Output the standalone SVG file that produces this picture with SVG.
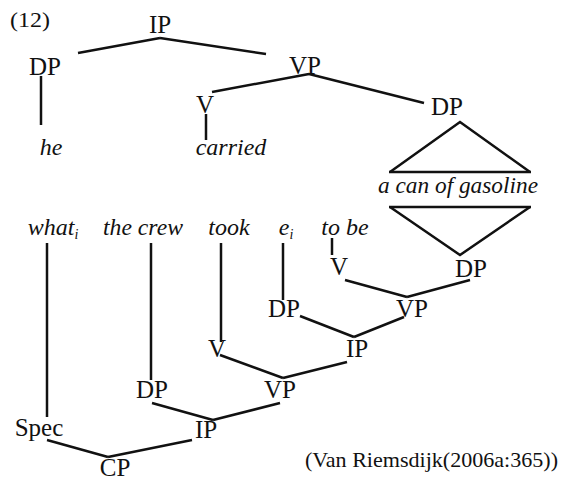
<svg xmlns="http://www.w3.org/2000/svg" width="570" height="477" viewBox="0 0 570 477">
<style>
.n{font-size:25px;fill:#111;text-anchor:middle}
.w{font-size:24px;font-style:italic;fill:#111;text-anchor:middle}
.s{font-size:14px}
.c{font-size:22px;fill:#111}
#edges line,#edges polyline{stroke:#111;stroke-width:2.5;fill:none;stroke-linecap:butt}
</style>
<rect width="570" height="477" fill="#fff"/>
<g id="edges">
<line x1="160" y1="38" x2="78" y2="53"/>
<line x1="160" y1="38" x2="266" y2="54"/>
<line x1="41" y1="76" x2="41" y2="125"/>
<line x1="309" y1="74" x2="212" y2="92"/>
<line x1="309" y1="74" x2="424" y2="103"/>
<line x1="206" y1="114" x2="206" y2="140"/>
<polyline points="390,172 460,122 530,172"/>
<line x1="389" y1="172" x2="531" y2="172"/>
<line x1="389" y1="207" x2="531" y2="207"/>
<polyline points="390,207 460,255 530,207"/>
<line x1="332" y1="238" x2="332" y2="255"/>
<line x1="345" y1="280" x2="407" y2="297"/>
<line x1="470" y1="280" x2="407" y2="297"/>
<line x1="283" y1="243" x2="283" y2="300"/>
<line x1="404" y1="317" x2="354" y2="337"/>
<line x1="300" y1="316" x2="354" y2="337"/>
<line x1="221" y1="243" x2="221" y2="342"/>
<line x1="220" y1="355" x2="283" y2="378"/>
<line x1="347" y1="362" x2="283" y2="378"/>
<line x1="151" y1="243" x2="151" y2="380"/>
<line x1="280" y1="403" x2="213" y2="420"/>
<line x1="152" y1="403" x2="213" y2="420"/>
<line x1="47" y1="243" x2="47" y2="417"/>
<line x1="192" y1="440" x2="108" y2="457"/>
<line x1="47" y1="440" x2="108" y2="457"/>
</g>
<g font-family="Liberation Serif">
<text class="c" x="10" y="27" textLength="40" lengthAdjust="spacingAndGlyphs">(12)</text>
<g id="ip_top"><text class="n" x="160" y="33">IP</text></g>
<g id="dp_he"><text class="n" x="45" y="75">DP</text></g>
<g id="he"><text class="w" x="51" y="155">he</text></g>
<g id="vp_top"><text class="n" x="305" y="74">VP</text></g>
<g id="v_top"><text class="n" x="205" y="113">V</text></g>
<g id="carried"><text class="w" x="231" y="155">carried</text></g>
<g id="dp_obj"><text class="n" x="447" y="115">DP</text></g>
<g id="gasoline"><text class="w" x="458" y="193" textLength="160" lengthAdjust="spacingAndGlyphs">a can of gasoline</text></g>
<g id="dp_low"><text class="n" x="471" y="277">DP</text></g>
<g id="whati"><text class="w" x="53" y="235">what<tspan class="s" dy="4">i</tspan></text></g>
<g id="thecrew"><text class="w" x="143" y="235" textLength="80" lengthAdjust="spacingAndGlyphs">the crew</text></g>
<g id="took"><text class="w" x="229" y="235">took</text></g>
<g id="ei"><text class="w" x="286" y="235">e<tspan class="s" dy="4">i</tspan></text></g>
<g id="tobe"><text class="w" x="345" y="235">to be</text></g>
<g id="v_tobe"><text class="n" x="339" y="275">V</text></g>
<g id="vp_r"><text class="n" x="412" y="317">VP</text></g>
<g id="dp_e"><text class="n" x="284" y="317">DP</text></g>
<g id="ip_mid"><text class="n" x="357" y="357">IP</text></g>
<g id="v_took"><text class="n" x="217" y="357">V</text></g>
<g id="vp_low"><text class="n" x="280" y="398">VP</text></g>
<g id="dp_crew"><text class="n" x="152" y="398">DP</text></g>
<g id="ip_low"><text class="n" x="206" y="438">IP</text></g>
<g id="spec"><text class="n" x="39" y="436">Spec</text></g>
<g id="cp"><text class="n" x="115" y="476">CP</text></g>
<text class="c" x="305" y="467" textLength="253" lengthAdjust="spacingAndGlyphs">(Van  Riemsdijk(2006a:365))</text>
</g>
</svg>
